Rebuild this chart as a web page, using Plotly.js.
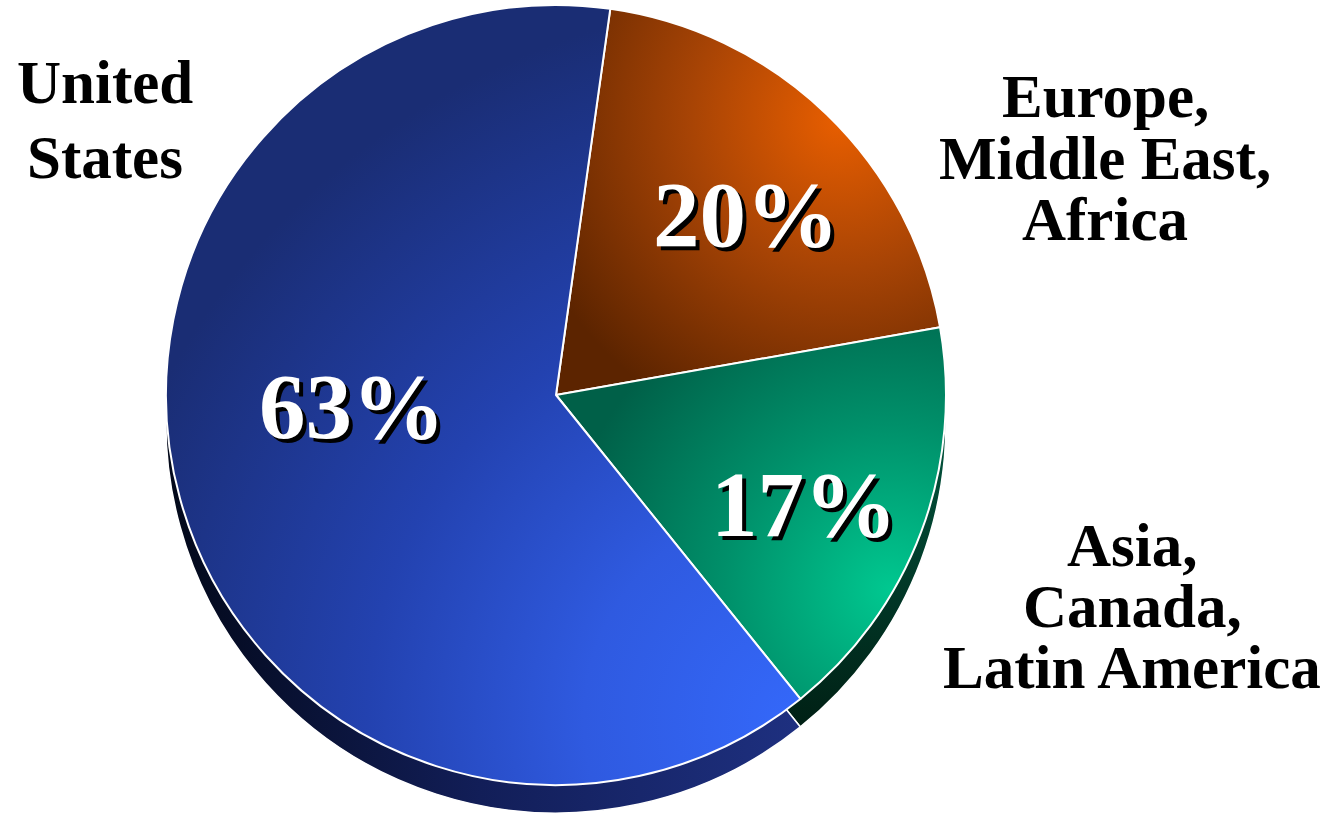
<!DOCTYPE html>
<html>
<head>
<meta charset="utf-8">
<script src="https://cdn.plot.ly/plotly-3.0.1.min.js"></script>
<style>
  html, body { margin: 0; padding: 0; background: #ffffff; }
  #chart { width: 1331px; height: 815px; }
</style>
</head>
<body>
<div id="chart"></div>
<script>
// ---- data ----
const regions = ["Europe, Middle East, Africa", "Asia, Canada, Latin America", "United States"];
const regionLines = [["Europe,", "Middle East,", "Africa"], ["Asia,", "Canada,", "Latin America"], ["United", "States"]];
const shares = [20, 17, 63];

// ---- layout helpers (pixel -> paper) ----
const W = 1331, H = 815;
const px = x => x / W;
const py = y => 1 - y / H;

const faceColors = ["#9a3f0a", "#008a64", "#2444b0"];
const sideColors = ["#5a2200", "#013a28", "#16266c"];

const cx = 556, cy = 395, R = 390, depth = 28;

function domainFor(cxp, cyp) {
  return {
    x: [px(cxp - R), px(cxp + R)],
    y: [py(cyp + R), py(cyp - R)]
  };
}

const common = {
  type: "pie",
  labels: regions,
  values: shares,
  sort: false,
  direction: "clockwise",
  rotation: 8,
  textinfo: "none",
  hoverinfo: "label+percent",
  showlegend: false
};

const sideTrace = Object.assign({}, common, {
  domain: domainFor(cx, cy + depth),
  marker: { colors: sideColors, line: { color: "#ffffff", width: 1.5 } }
});
const faceTrace = Object.assign({}, common, {
  domain: domainFor(cx, cy),
  marker: { colors: faceColors, line: { color: "#ffffff", width: 2 } }
});

// label positions (layout only)
const labelPos = [
  { x: 1105, y0: 97, step: 61 },
  { x: 1132, y0: 545, step: 61 },
  { x: 105, y0: 83, step: 74 }
];
const pctPos = [
  { x: 746, y: 214 },
  { x: 804, y: 504 },
  { x: 352, y: 406 }
];

const serif = "Liberation Serif, Times New Roman, serif";
const annotations = [];
regionLines.forEach((lines, i) => {
  lines.forEach((ln, j) => {
    annotations.push({
      xref: "paper", yref: "paper",
      x: px(labelPos[i].x), y: py(labelPos[i].y0 + j * labelPos[i].step),
      xanchor: "center", yanchor: "middle",
      text: ln, showarrow: false,
      font: { family: serif, size: 61, color: "#000000", weight: "bold" }
    });
  });
});
shares.forEach((v, i) => {
  annotations.push({
    xref: "paper", yref: "paper",
    x: px(pctPos[i].x), y: py(pctPos[i].y),
    xanchor: "center", yanchor: "middle",
    text: v + "%", showarrow: false,
    font: { family: serif, size: 93, color: "#ffffff", weight: "bold",
            shadow: "4px 4px 0px #000000" }
  });
});

const layout = {
  width: W, height: H,
  margin: { l: 0, r: 0, t: 0, b: 0 },
  paper_bgcolor: "#ffffff",
  plot_bgcolor: "#ffffff",
  showlegend: false,
  annotations: annotations
};

// ---- shading (style only): gradient fills on the slices Plotly drew ----
const SVGNS = "http://www.w3.org/2000/svg";
const gradients = {
  faceEU: { type: "radial", cx: 840, cy: 120, r: 330,
            stops: [[0, "#e85e00"], [0.45, "#a84405"], [1, "#5c2400"]] },
  faceAS: { type: "radial", cx: 890, cy: 590, r: 330,
            stops: [[0, "#00c890"], [0.5, "#00906a"], [1, "#006048"]] },
  faceUS: { type: "radial", cx: 800, cy: 720, r: 720,
            stops: [[0, "#3468fa"], [0.3, "#2f5ae0"], [0.6, "#2342b0"], [1, "#1a2d74"]] },
  sideEU: { type: "linear", x1: 160, y1: 0, x2: 960, y2: 0,
            stops: [[0, "#3a1600"], [1, "#5a2200"]] },
  sideAS: { type: "linear", x1: 0, y1: 450, x2: 0, y2: 760,
            stops: [[0, "#02503a"], [1, "#001a10"]] },
  sideUS: { type: "linear", x1: 160, y1: 0, x2: 800, y2: 0,
            stops: [[0, "#020818"], [0.5, "#121e58"], [1, "#1e3080"]] }
};
const sliceGrad = [["sideEU", "sideAS", "sideUS"], ["faceEU", "faceAS", "faceUS"]];

function applyShading(gd) {
  const svg = gd.querySelector("svg.main-svg");
  let defs = svg.querySelector("defs");
  if (!defs) { defs = document.createElementNS(SVGNS, "defs"); svg.insertBefore(defs, svg.firstChild); }
  Object.keys(gradients).forEach(id => {
    const g = gradients[id];
    const el = document.createElementNS(SVGNS, g.type === "radial" ? "radialGradient" : "linearGradient");
    el.setAttribute("id", id);
    el.setAttribute("gradientUnits", "userSpaceOnUse");
    if (g.type === "radial") {
      el.setAttribute("cx", g.cx); el.setAttribute("cy", g.cy); el.setAttribute("r", g.r);
    } else {
      el.setAttribute("x1", g.x1); el.setAttribute("y1", g.y1);
      el.setAttribute("x2", g.x2); el.setAttribute("y2", g.y2);
    }
    g.stops.forEach(s => {
      const st = document.createElementNS(SVGNS, "stop");
      st.setAttribute("offset", s[0]);
      st.setAttribute("stop-color", s[1]);
      el.appendChild(st);
    });
    defs.appendChild(el);
  });
  const traces = gd.querySelectorAll(".pielayer g.trace");
  traces.forEach((t, ti) => {
    t.querySelectorAll("g.slice").forEach((s, si) => {
      const p = s.querySelector("path.surface");
      if (p && sliceGrad[ti] && sliceGrad[ti][si]) p.style.fill = "url(#" + sliceGrad[ti][si] + ")";
    });
  });
}

Plotly.newPlot("chart", [sideTrace, faceTrace], layout, { displayModeBar: false, staticPlot: true })
  .then(applyShading);
</script>
</body>
</html>
